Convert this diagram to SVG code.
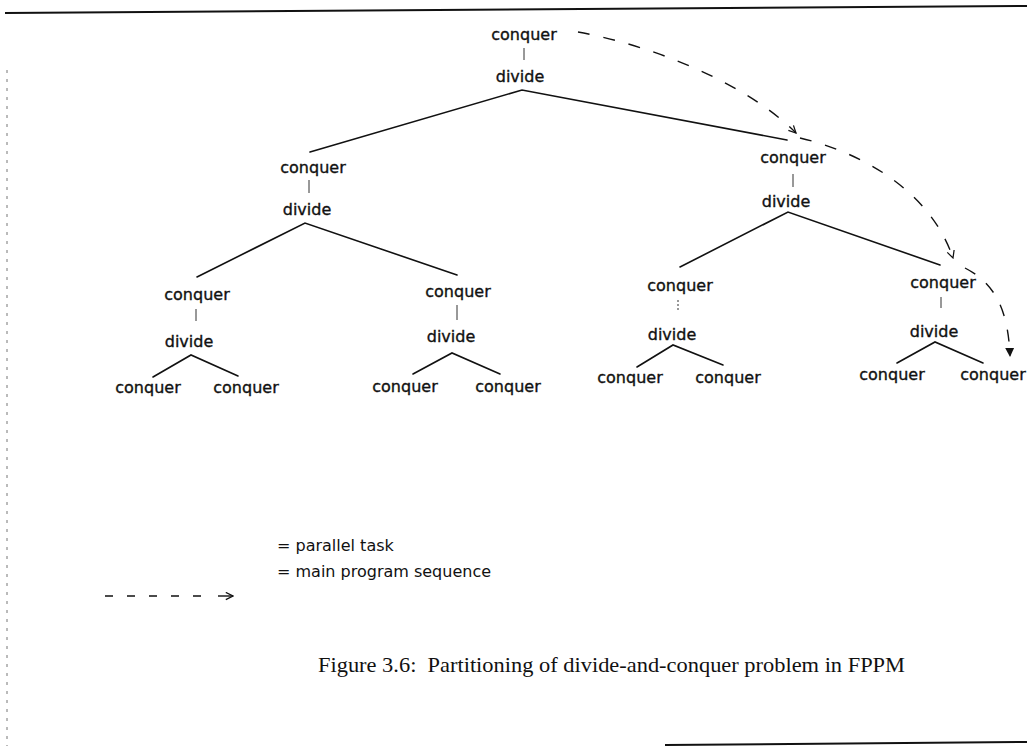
<svg xmlns="http://www.w3.org/2000/svg" width="1027" height="746" viewBox="0 0 1027 746">
  <style>
    .lbl { font-family: "DejaVu Sans", "Liberation Sans", sans-serif; font-size: 16px; fill: #111; stroke: #111; stroke-width: 0.35; text-anchor: middle; }
    .leg { font-family: "DejaVu Sans", "Liberation Sans", sans-serif; font-size: 16px; fill: #111; }
    .cap { font-family: "Liberation Serif", "Times New Roman", serif; font-size: 22px; fill: #111; }
    .edge { stroke: #111; stroke-width: 1.6; fill: none; stroke-linecap: round; }
    .tick { stroke: #333; stroke-width: 1; fill: none; }
    .seq { stroke: #111; stroke-width: 1.4; fill: none; stroke-dasharray: 12 14; }
    .frame { stroke: #111; stroke-width: 2; fill: none; }
  </style>
  <defs>
    <marker id="openHead" viewBox="0 0 10 10" refX="9" refY="5" markerWidth="9" markerHeight="9" markerUnits="userSpaceOnUse" orient="auto">
      <path d="M1,1 L9,5 L1,9" fill="none" stroke="#111" stroke-width="1.4"/>
    </marker>
    <marker id="solidHead" viewBox="0 0 10 10" refX="9" refY="5" markerWidth="9" markerHeight="9" markerUnits="userSpaceOnUse" orient="auto">
      <path d="M0,0 L10,5 L0,10 Z" fill="#111"/>
    </marker>
  </defs>

  <rect width="1027" height="746" fill="#fff"/>

  <!-- page frame remnants -->
  <g id="frame">
    <line class="frame" x1="5" y1="13" x2="1027" y2="6"/>
    <line x1="7" y1="70" x2="7" y2="746" stroke="#777" stroke-width="1" stroke-dasharray="3 6"/>
    <line class="frame" x1="665" y1="745" x2="1027" y2="742"/>
  </g>

  <!-- tree edges and the main program sequence -->
  <g id="connectors">
    <!-- root split -->
    <polyline class="edge" points="310,152 522,90 787,140"/>
    <!-- second level splits -->
    <polyline class="edge" points="197,277 305,223 457,275"/>
    <polyline class="edge" points="680,267 788,212 940,265"/>
    <!-- third level splits -->
    <polyline class="edge" points="153,377 191,355 238,376"/>
    <polyline class="edge" points="413,374 452,353 500,374"/>
    <polyline class="edge" points="637,367 673,345 723,365"/>
    <polyline class="edge" points="897,363 935,342 983,363"/>
    <!-- main program sequence -->
    <path class="seq" d="M578,32 C650,45 745,82 796,133" marker-end="url(#openHead)"/>
    <path class="seq" d="M800,138 C860,152 930,190 953,258" marker-end="url(#openHead)"/>
    <path class="seq" d="M965,268 C992,282 1008,305 1010,356" marker-end="url(#solidHead)"/>
  </g>

  <!-- tasks -->
  <g id="task-root">
    <text class="lbl" x="524" y="40">conquer</text>
    <line class="tick" x1="524" y1="48" x2="524" y2="60"/>
    <text class="lbl" x="520" y="82">divide</text>
  </g>
  <g id="task-l">
    <text class="lbl" x="313" y="173">conquer</text>
    <line class="tick" x1="309" y1="180" x2="309" y2="193"/>
    <text class="lbl" x="307" y="215">divide</text>
  </g>
  <g id="task-r">
    <text class="lbl" x="793" y="163">conquer</text>
    <line class="tick" x1="793" y1="174" x2="793" y2="187"/>
    <text class="lbl" x="786" y="207">divide</text>
  </g>
  <g id="task-ll">
    <text class="lbl" x="197" y="300">conquer</text>
    <line class="tick" x1="196" y1="309" x2="196" y2="321"/>
    <text class="lbl" x="189" y="347">divide</text>
  </g>
  <g id="task-lr">
    <text class="lbl" x="458" y="297">conquer</text>
    <line class="tick" x1="457" y1="305" x2="457" y2="320"/>
    <text class="lbl" x="451" y="342">divide</text>
  </g>
  <g id="task-rl">
    <text class="lbl" x="680" y="291">conquer</text>
    <line class="tick" x1="678" y1="300" x2="678" y2="312" stroke-dasharray="2 2"/>
    <text class="lbl" x="672" y="340">divide</text>
  </g>
  <g id="task-rr">
    <text class="lbl" x="943" y="288">conquer</text>
    <line class="tick" x1="941" y1="297" x2="941" y2="308"/>
    <text class="lbl" x="934" y="337">divide</text>
  </g>
  <g id="leaf-lll"><text class="lbl" x="148" y="393">conquer</text></g>
  <g id="leaf-llr"><text class="lbl" x="246" y="393">conquer</text></g>
  <g id="leaf-lrl"><text class="lbl" x="405" y="392">conquer</text></g>
  <g id="leaf-lrr"><text class="lbl" x="508" y="392">conquer</text></g>
  <g id="leaf-rll"><text class="lbl" x="630" y="383">conquer</text></g>
  <g id="leaf-rlr"><text class="lbl" x="728" y="383">conquer</text></g>
  <g id="leaf-rrl"><text class="lbl" x="892" y="380">conquer</text></g>
  <g id="leaf-rrr"><text class="lbl" x="993" y="380">conquer</text></g>

  <!-- legend -->
  <g id="legend">
    <text class="leg" x="277" y="551">= parallel task</text>
    <text class="leg" x="277" y="577">= main program sequence</text>
    <line x1="105" y1="596" x2="205" y2="596" stroke="#111" stroke-width="1.4" stroke-dasharray="8 14"/>
    <line x1="218" y1="596" x2="233" y2="596" stroke="#111" stroke-width="1.4" marker-end="url(#openHead)"/>
  </g>

  <!-- caption -->
  <text class="cap" x="318" y="672" textLength="587" lengthAdjust="spacingAndGlyphs" xml:space="preserve">Figure 3.6:  Partitioning of divide-and-conquer problem in FPPM</text>
</svg>
